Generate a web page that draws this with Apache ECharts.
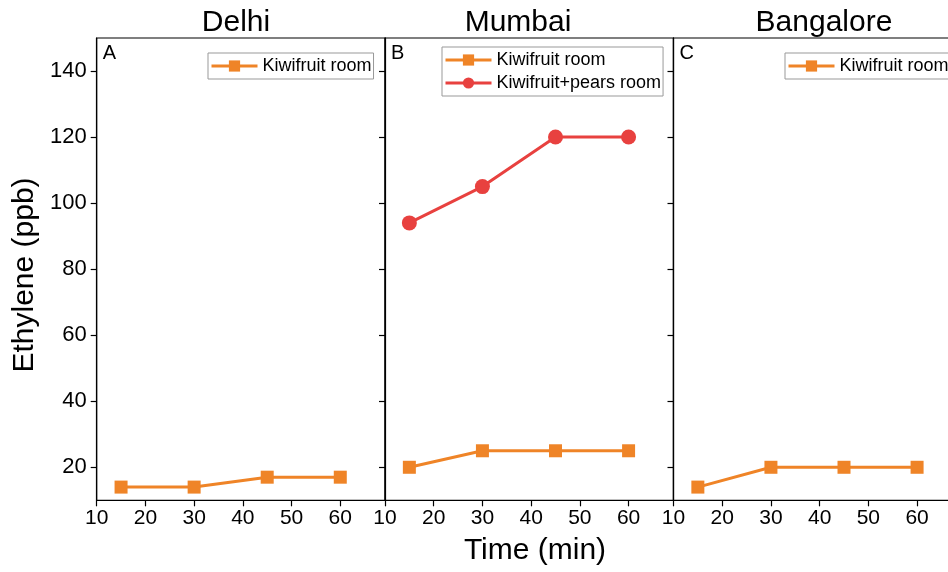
<!DOCTYPE html>
<html><head><meta charset="utf-8">
<script src="https://cdn.jsdelivr.net/npm/echarts@6/dist/echarts.min.js"></script>
<style>html,body{margin:0;padding:0;background:#fff}#c{width:948px;height:572px}</style>
</head><body><div id="c"></div>
<script>
const times = [15, 30, 45, 60];
const delhiKiwi = [14, 14, 17, 17];
const mumbaiKiwi = [20, 25, 25, 25];
const mumbaiPears = [94, 105, 120, 120];
const bangaloreKiwi = [14, 20, 20, 20];
const xTicks = [10, 20, 30, 40, 50, 60];
const yTicks = [20, 40, 60, 80, 100, 120, 140];
const cities = ['Delhi', 'Mumbai', 'Bangalore'];
const letters = ['A', 'B', 'C'];

const ORANGE = '#EF8427';
const RED = '#E8413F';
const FONT = 'Liberation Sans, Arial, sans-serif';

const pairs = v => times.map((t, i) => [t, v[i]]);
const chart = echarts.init(document.getElementById('c'), null, {renderer: 'canvas'});

const gridLefts = [96.7, 385, 673.5];
const gridW = 288.4;
const grids = gridLefts.map(l => ({left: l, top: 38, width: gridW, height: 462.3, show: true, borderColor: '#000', borderWidth: 1.2, backgroundColor: 'transparent', containLabel: false, outerBoundsMode: 'none'}));

const xAxes = gridLefts.map((l, i) => ({
  type: 'value', gridIndex: i, min: 10, max: 69.2,
  axisLine: {show: true, onZero: false, lineStyle: {color: '#000', width: 1.2}},
  axisTick: {show: true, inside: false, length: 6, lineStyle: {color: '#000', width: 1.2}, customValues: xTicks},
  axisLabel: {show: true, color: '#000', fontSize: 21, fontFamily: FONT, margin: 7, customValues: xTicks},
  splitLine: {show: false}
}));

const yAxes = gridLefts.map((l, i) => ({
  type: 'value', gridIndex: i, min: 10, max: 150,
  axisLine: {show: true, onZero: false, lineStyle: {color: '#000', width: 1.2}},
  axisTick: {show: true, inside: false, length: 6, lineStyle: {color: '#000', width: 1.2}, customValues: yTicks},
  axisLabel: {show: i === 0, color: '#000', fontSize: 22, fontFamily: FONT, margin: 10, customValues: yTicks},
  splitLine: {show: false}
}));

const lineSeries = (name, data, gi, color, symbol, size) => ({
  name, type: 'line', xAxisIndex: gi, yAxisIndex: gi, data: pairs(data),
  symbol, symbolSize: size, showSymbol: true,
  lineStyle: {color, width: 3}, itemStyle: {color, borderWidth: 0}, z: 3
});

const legendBase = {
  orient: 'vertical', borderColor: '#999', borderWidth: 1, padding: [4, 2, 4, 2],
  itemWidth: 46, itemHeight: 14, itemGap: 5, backgroundColor: '#fff',
  lineStyle: {width: 3},
  textStyle: {fontSize: 18, color: '#000', fontFamily: FONT}
};

chart.setOption({
  animation: false,
  title: cities.map((c, i) => ({
    text: c, left: [231, 513, 819][i], top: 3, textAlign: 'center',
    textStyle: {fontSize: 30, fontWeight: 'normal', color: '#000', fontFamily: FONT}
  })),
  grid: grids,
  xAxis: xAxes,
  yAxis: yAxes,
  legend: [
    Object.assign({}, legendBase, {left: 208, top: 53, data: [{name: 'Kiwifruit room', itemStyle: {color: ORANGE}}]}),
    Object.assign({}, legendBase, {left: 442, top: 47, data: [{name: 'Kiwifruit room', itemStyle: {color: ORANGE}}, {name: 'Kiwifruit+pears room', itemStyle: {color: RED}}]}),
    Object.assign({}, legendBase, {left: 785, top: 53, data: [{name: 'Kiwifruit room', itemStyle: {color: ORANGE}}]})
  ],
  graphic: [
    ...letters.map((t, i) => ({type: 'text', left: gridLefts[i] + 6, top: 43, style: {text: t, fontSize: 20, fill: '#000', fontFamily: FONT}})),
    {type: 'text', x: 25, y: 275, rotation: Math.PI / 2, style: {text: 'Ethylene (ppb)', fontSize: 30, fill: '#000', fontFamily: FONT, align: 'center', verticalAlign: 'middle'}},
    {type: 'text', x: 535, y: 551, style: {text: 'Time (min)', fontSize: 30, fill: '#000', fontFamily: FONT, align: 'center', verticalAlign: 'middle'}}
  ],
  series: [
    lineSeries('Kiwifruit room', delhiKiwi, 0, ORANGE, 'rect', 13),
    lineSeries('Kiwifruit room', mumbaiKiwi, 1, ORANGE, 'rect', 13),
    lineSeries('Kiwifruit+pears room', mumbaiPears, 1, RED, 'circle', 15),
    lineSeries('Kiwifruit room', bangaloreKiwi, 2, ORANGE, 'rect', 13)
  ]
});
</script></body></html>
